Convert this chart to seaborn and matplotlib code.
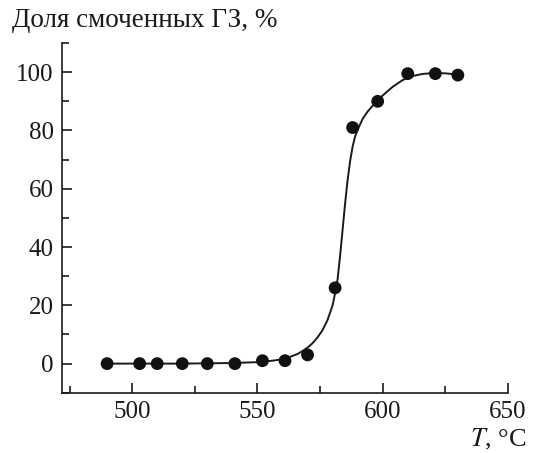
import numpy as np
import pandas as pd
import matplotlib
matplotlib.use("Agg")
import matplotlib.pyplot as plt
import seaborn as sb
from matplotlib.ticker import MultipleLocator

# measured points
temp = [490, 503, 510, 520, 530, 541, 552, 561, 570, 581, 588, 598, 610, 621, 630]
share = [0, 0, 0, 0, 0, 0, 1, 1, 3, 26, 81, 90, 99.5, 99.5, 99]

# fitted curve
curve_t = [490, 500, 520, 540, 550, 556, 560, 563, 566, 568, 570, 572, 574, 576, 578,
           580, 581.2, 582, 583, 584, 585, 586, 587, 588, 589, 590.4, 592, 594,
           597, 600, 604, 608, 612, 616, 620, 625, 630]
curve_v = [0, 0, 0, 0.2, 0.5, 1, 1.5, 2.3, 3.3, 4.3, 5.5, 7, 9, 11.5, 15,
           20, 25, 29, 37, 46, 55, 63, 69.5, 74.5, 78, 81, 84, 86.5,
           89.5, 92, 95, 97.3, 98.7, 99.4, 99.7, 99.6, 99.2]

sb.set_style("ticks")
plt.rcParams['font.family'] = ['Liberation Serif', 'DejaVu Serif']
plt.rcParams['mathtext.fontset'] = 'stix'

fig = plt.figure(figsize=(5.36, 4.53), dpi=100)
ax = fig.add_axes([0.1157, 0.133, 0.832, 0.772])

df_c = pd.DataFrame({"T": curve_t, "v": curve_v})
df_p = pd.DataFrame({"T": temp, "v": share})
sb.lineplot(data=df_c, x="T", y="v", ax=ax, color="#1a1a1a", linewidth=1.4)
sb.scatterplot(data=df_p, x="T", y="v", ax=ax, color="#111111", s=85, edgecolor="none", zorder=3)

ax.set_xlim(472, 650)
ax.set_ylim(-10, 110)
ax.xaxis.set_major_locator(MultipleLocator(50))
ax.xaxis.set_minor_locator(MultipleLocator(25))
ax.yaxis.set_major_locator(MultipleLocator(20))
ax.yaxis.set_minor_locator(MultipleLocator(10))
ax.tick_params(which="both", direction="in", labelsize=18, width=1.2, colors="#1a1a1a")
ax.tick_params(which="major", length=7, pad=6)
ax.tick_params(which="minor", length=5)
ax.set_yticks([0, 20, 40, 60, 80, 100])
for s in ["top", "right"]:
    ax.spines[s].set_visible(False)
for s in ["left", "bottom"]:
    ax.spines[s].set_linewidth(1.2)
    ax.spines[s].set_color("#1a1a1a")

ax.set_xlabel("")
ax.set_ylabel("")
fig.text(0.022, 0.94, "Доля смоченных ГЗ, %", fontsize=19.5, color="#1a1a1a")
fig.text(0.982, 0.015, "$\\mathit{T}$, °C", fontsize=19, ha="right", color="#1a1a1a")

fig.savefig("out.png", dpi=100)
